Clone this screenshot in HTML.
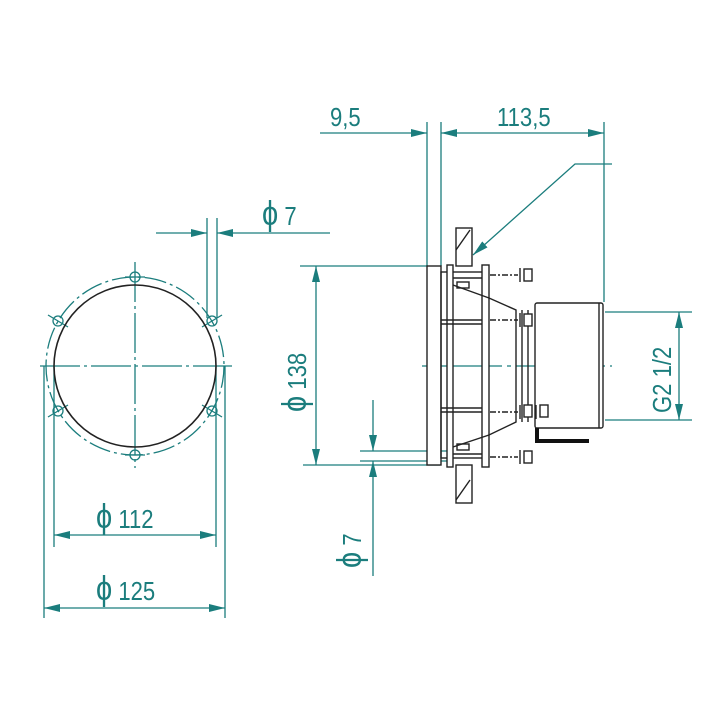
<!DOCTYPE html>
<html><head><meta charset="utf-8"><style>
html,body{margin:0;padding:0;background:#fff}
svg{display:block}
text{font-family:"Liberation Sans",sans-serif;fill:#1b7d7d}
</style></head><body>
<svg width="718" height="718" viewBox="0 0 718 718" xmlns="http://www.w3.org/2000/svg">
<defs>
<marker id="a" viewBox="0 0 16 8" refX="16" refY="4" markerWidth="16" markerHeight="8" markerUnits="userSpaceOnUse" orient="auto-start-reverse">
<path d="M0,0 L16,4 L0,8 z" fill="#1b7d7d"/></marker>
</defs>
<g stroke="#1b7d7d" stroke-width="1.3" fill="none">
<line x1="135" y1="262" x2="135" y2="468" stroke-dasharray="40 4 3 4"/>
<line x1="40" y1="366" x2="232" y2="366" stroke-dasharray="40 4 3 4"/>
<circle cx="135" cy="366" r="89" stroke-dasharray="22 4 3 4"/>
<g>
<circle cx="135" cy="277" r="5"/><circle cx="135" cy="455" r="5"/>
<circle cx="58" cy="321" r="5"/><circle cx="212" cy="321" r="5"/>
<circle cx="58" cy="411" r="5"/><circle cx="212" cy="411" r="5"/>
<line x1="125" y1="277" x2="145" y2="277"/><line x1="125" y1="455" x2="145" y2="455"/>
<line x1="48" y1="315" x2="68" y2="327"/><line x1="202" y1="327" x2="222" y2="315"/>
<line x1="48" y1="417" x2="68" y2="405"/><line x1="202" y1="405" x2="222" y2="417"/>
</g>
<line x1="207" y1="218" x2="207" y2="318"/><line x1="217" y1="218" x2="217" y2="318"/>
<line x1="156" y1="233" x2="207" y2="233" marker-end="url(#a)"/>
<line x1="330" y1="233" x2="217" y2="233" marker-end="url(#a)"/>
<line x1="54" y1="366" x2="54" y2="547"/><line x1="216" y1="366" x2="216" y2="547"/>
<line x1="44" y1="366" x2="44" y2="618"/><line x1="225" y1="366" x2="225" y2="618"/>
<line x1="54" y1="535" x2="216" y2="535" marker-start="url(#a)" marker-end="url(#a)"/>
<line x1="44" y1="608" x2="225" y2="608" marker-start="url(#a)" marker-end="url(#a)"/>
<line x1="427" y1="122" x2="427" y2="266"/><line x1="441" y1="122" x2="441" y2="266"/>
<line x1="604" y1="122" x2="604" y2="302"/>
<line x1="320" y1="133" x2="427" y2="133" marker-end="url(#a)"/>
<line x1="441" y1="133" x2="604" y2="133" marker-start="url(#a)" marker-end="url(#a)"/>
<polyline points="612,164 575,164 473,255" marker-end="url(#a)"/>
<line x1="300" y1="266" x2="428" y2="266"/><line x1="303" y1="465" x2="440" y2="465"/>
<line x1="316" y1="266" x2="316" y2="465" marker-start="url(#a)" marker-end="url(#a)"/>
<line x1="360" y1="451" x2="450" y2="451"/><line x1="360" y1="461" x2="450" y2="461"/>
<line x1="373" y1="400" x2="373" y2="451" marker-end="url(#a)"/>
<line x1="373" y1="576" x2="373" y2="461" marker-end="url(#a)"/>
<line x1="605" y1="312" x2="692" y2="312"/><line x1="605" y1="420" x2="692" y2="420"/>
<line x1="679" y1="312" x2="679" y2="420" marker-start="url(#a)" marker-end="url(#a)"/>
<line x1="422" y1="366" x2="612" y2="366" stroke-dasharray="80 5 4 5"/>
</g>
<circle cx="135" cy="366" r="81" stroke="#222" stroke-width="1.6" fill="none"/>
<g stroke="#222" stroke-width="1.4" fill="#fff">
<rect x="456" y="228" width="16" height="38"/>
<rect x="456" y="465" width="16" height="38"/>
<line x1="456" y1="250" x2="470" y2="230" /><line x1="456" y1="500" x2="470" y2="480"/>
<rect x="427" y="266" width="14" height="199"/>
<rect x="441" y="272" width="42" height="186" fill="none"/>
<rect x="447" y="265" width="6" height="202"/>
<rect x="482" y="265" width="7" height="202"/>
<line x1="453" y1="278" x2="482" y2="278"/><line x1="453" y1="454" x2="482" y2="454"/>
<line x1="441" y1="320" x2="482" y2="320"/><line x1="441" y1="324" x2="482" y2="324"/>
<line x1="441" y1="408" x2="482" y2="408"/><line x1="441" y1="412" x2="482" y2="412"/>
<rect x="457" y="282" width="12" height="6"/><rect x="457" y="444" width="12" height="6"/>
<polyline points="453,285 489,298 516,310 516,422 489,435 453,447" fill="none"/>
<line x1="522" y1="310" x2="522" y2="422"/><line x1="528" y1="310" x2="528" y2="422"/>
<rect x="535" y="303" width="68" height="125" rx="2"/>
<line x1="599" y1="303" x2="599" y2="428"/>
<g>
<line x1="490" y1="275" x2="518" y2="275" stroke-dasharray="6 2 2 2"/>
<line x1="520" y1="268" x2="520" y2="282"/><rect x="524" y="269" width="8" height="12"/>
<line x1="490" y1="320" x2="518" y2="320" stroke-dasharray="6 2 2 2"/>
<line x1="520" y1="313" x2="520" y2="327"/><rect x="524" y="314" width="8" height="12"/>
<line x1="490" y1="412" x2="518" y2="412" stroke-dasharray="6 2 2 2"/>
<line x1="520" y1="405" x2="520" y2="419"/><rect x="524" y="405" width="8" height="12"/>
<line x1="536" y1="405" x2="536" y2="419"/><rect x="540" y="405" width="8" height="12"/>
<line x1="490" y1="457" x2="518" y2="457" stroke-dasharray="6 2 2 2"/>
<line x1="520" y1="450" x2="520" y2="464"/><rect x="524" y="451" width="8" height="12"/>
</g>
</g>
<polyline points="537,428 537,441 589,441" stroke="#111" stroke-width="4" fill="none"/>
<g font-size="26">
<text transform="translate(262 225) scale(0.85 1)"><tspan font-size="34">ϕ</tspan> 7</text>
<text transform="translate(96 528) scale(0.85 1)"><tspan font-size="34">ϕ</tspan> 112</text>
<text transform="translate(96 600) scale(0.85 1)"><tspan font-size="34">ϕ</tspan> 125</text>
<text transform="translate(330 126) scale(0.85 1)">9,5</text>
<text transform="translate(497 126) scale(0.85 1)">113,5</text>
<text transform="translate(306 412) rotate(-90) scale(0.85 1)"><tspan font-size="34">ϕ</tspan> 138</text>
<text transform="translate(361 568) rotate(-90) scale(0.85 1)"><tspan font-size="34">ϕ</tspan> 7</text>
<text transform="translate(671 413) rotate(-90) scale(0.85 1)">G2 1/2</text>
</g>
</svg>
</body></html>
